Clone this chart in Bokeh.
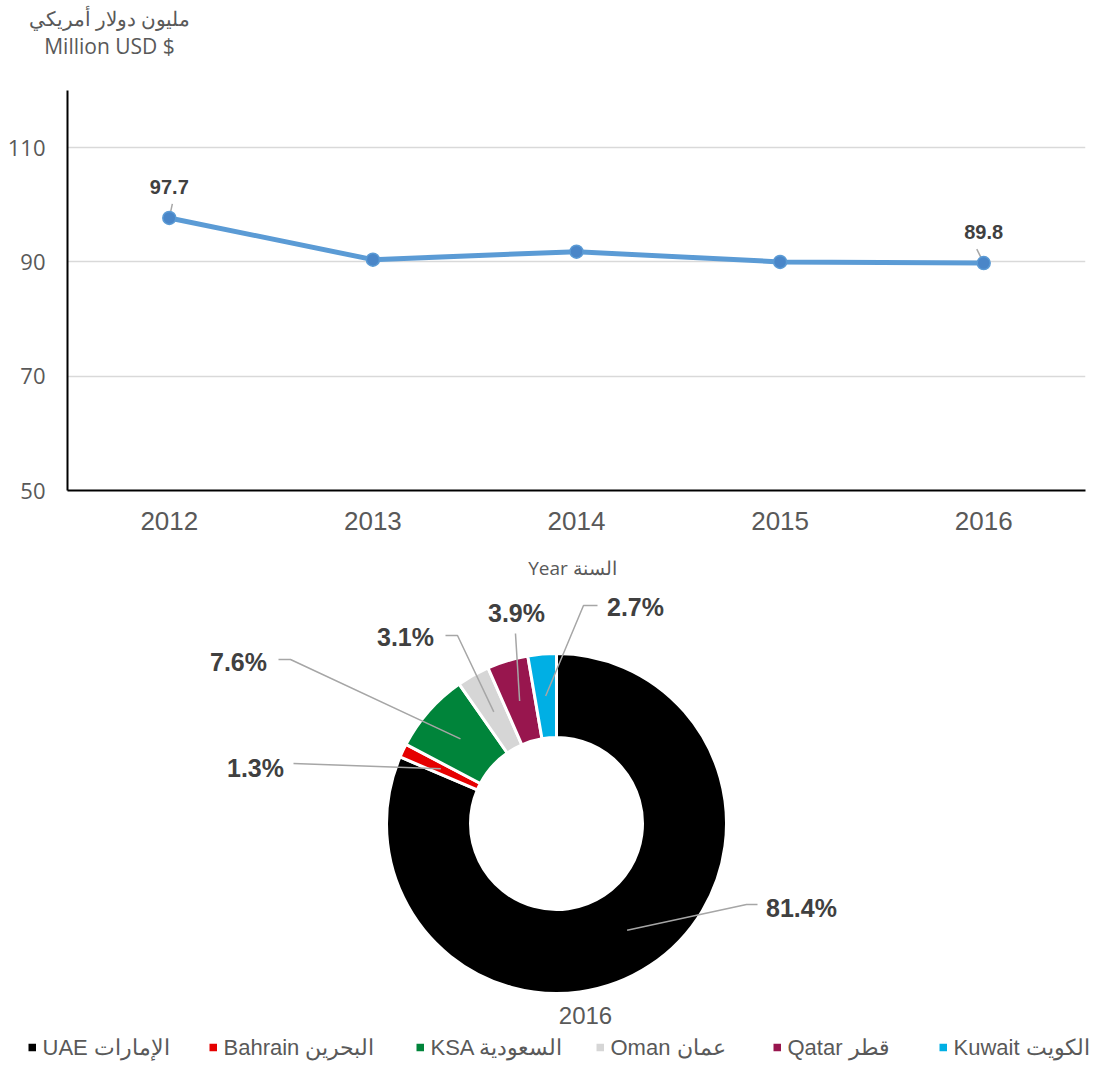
import math
from bokeh.plotting import figure
from bokeh.models import Range1d, FixedTicker, Label, LabelSet, ColumnDataSource
from bokeh.layouts import column
from bokeh.embed import file_html
from bokeh.resources import INLINE
from bokeh.core.properties import value

# ---------------- data ----------------
years = ["2012", "2013", "2014", "2015", "2016"]
spend = [97.7, 90.4, 91.8, 90.0, 89.8]
y_ticks = [50, 70, 90, 110]
y_title_ar = "مليون دولار أمريكي"
y_title_en = "Million USD $"
x_title = "Year السنة"

countries = ["UAE الإمارات", "Bahrain البحرين", "KSA السعودية",
             "Oman عمان", "Qatar قطر", "Kuwait الكويت"]
shares = [81.4, 1.3, 7.6, 3.1, 3.9, 2.7]
share_labels = ["81.4%", "1.3%", "7.6%", "3.1%", "3.9%", "2.7%"]
colors = ["#000000", "#e50000", "#00843a", "#d6d6d6", "#98164e", "#00afe4"]
pie_title = "2016"

GREY = "#595959"
DARK = "#404040"
ARIAL = "Liberation Sans"
W = 1093


def blank(height):
    f = figure(width=W, height=height, x_range=Range1d(0, W), y_range=Range1d(0, height),
               output_backend="svg", toolbar_location=None, min_border=0,
               x_axis_location=None, y_axis_location=None)
    f.frame_align = False
    f.grid.visible = False
    f.outline_line_color = None
    f.background_fill_color = "white"
    f.border_fill_color = "white"
    return f


# ---------------- header strip (axis title) ----------------
H0 = 90
p0 = blank(H0)
for txt, py, fs in ((y_title_ar, 18, "20px"), (y_title_en, 45, "21px")):
    p0.add_layout(Label(x=109, y=H0 - py, text=txt, text_align="center",
                        text_baseline="middle", text_font="Open Sans",
                        text_font_size=fs, text_color=GREY))

# ---------------- line chart ----------------
FRAME_H = 400
H1 = 455
FL, FR = 67, 8
p1 = figure(width=W, height=H1, x_range=Range1d(-0.5, len(years) - 0.5),
            y_range=Range1d(50, 120), output_backend="svg", toolbar_location=None,
            min_border_left=FL, min_border_right=FR, min_border_top=0,
            min_border_bottom=H1 - FRAME_H)
p1.frame_align = False
p1.outline_line_color = None
p1.background_fill_color = "white"
p1.border_fill_color = "white"

xs = list(range(len(years)))
p1.xaxis.ticker = FixedTicker(ticks=xs)
p1.xaxis.major_label_overrides = {i: y for i, y in enumerate(years)}
p1.yaxis.ticker = FixedTicker(ticks=y_ticks)
for ax in (p1.xaxis, p1.yaxis):
    ax.axis_line_color = "black"
    ax.axis_line_width = 2
    ax.major_tick_line_color = None
    ax.minor_tick_line_color = None
    ax.major_label_text_color = GREY
p1.xaxis.major_label_text_font = ARIAL
p1.xaxis.major_label_text_font_size = "26px"
p1.xaxis.major_label_standoff = 15
p1.yaxis.major_label_text_font = "Open Sans"
p1.yaxis.major_label_text_font_size = "22px"
p1.yaxis.major_label_standoff = 16
p1.xgrid.grid_line_color = None
p1.ygrid.ticker = FixedTicker(ticks=y_ticks)
p1.ygrid.grid_line_color = "#d9d9d9"
p1.ygrid.grid_line_width = 1.5

p1.line(xs, spend, line_width=5, color="#5b9bd5")

# small leader lines for the data labels (first and last point)
lab_idx = [0, len(years) - 1]
lead_dx = [0.015, -0.034]
p1.segment(x0=[xs[i] for i in lab_idx], y0=[spend[i] for i in lab_idx],
           x1=[xs[i] + d for i, d in zip(lab_idx, lead_dx)],
           y1=[spend[i] + 2.45 for i in lab_idx],
           line_color="#a6a6a6", line_width=1.5)

p1.scatter(xs, spend, size=13, fill_color="#4a86c8", line_color="#5b9bd5",
           line_width=1.5)

lsrc = ColumnDataSource(dict(x=[xs[i] for i in lab_idx],
                             y=[spend[i] for i in lab_idx],
                             t=[f"{spend[i]:.1f}" for i in lab_idx]))
p1.add_layout(LabelSet(x="x", y="y", text="t", source=lsrc, y_offset=31,
                       text_align="center", text_baseline="middle",
                       text_font=value(ARIAL), text_font_style="bold",
                       text_font_size="20px", text_color=DARK))

# ---------------- donut chart ----------------
TOP2 = H0 + H1
H2 = 1064 - TOP2
p2 = blank(H2)


def fy(py):  # page y -> data y of the donut strip
    return TOP2 + H2 - py


p2.add_layout(Label(x=572, y=fy(567), text=x_title, text_align="center",
                    text_baseline="middle", text_font="Open Sans",
                    text_font_size="19px", text_color=GREY))

cx, cy = 556, fy(823)
r_in, r_out = 86, 170
total = sum(shares)
cum = [0.0]
for s in shares:
    cum.append(cum[-1] + s / total)
starts = [math.pi / 2 - 2 * math.pi * c for c in cum[:-1]]
ends = [math.pi / 2 - 2 * math.pi * c for c in cum[1:]]
mids = [(a + b) / 2 for a, b in zip(starts, ends)]

wsrc = ColumnDataSource(dict(start=starts, end=ends, color=colors))
p2.annular_wedge(x=cx, y=cy, inner_radius=r_in, outer_radius=r_out,
                 start_angle="start", end_angle="end", direction="clock",
                 fill_color="color", line_color="white", line_width=3,
                 source=wsrc)

# leader lines: anchor at the middle of each ring segment, then label-side points (page px)
leader_pts = [
    [(746, 904), (757, 904)],
    [(293, 763)],
    [(290, 659), (278, 659)],
    [(457, 635), (445, 635)],
    [(515, 633)],
    [(583, 605), (597, 605)],
]
label_pos = [(801, 907), (255, 767), (238, 661), (405, 636), (516, 612), (635, 606)]
r_mid = (r_in + r_out) / 2
lx, ly = [], []
for m, pts in zip(mids, leader_pts):
    lx.append([cx + r_mid * math.cos(m)] + [p[0] for p in pts])
    ly.append([cy + r_mid * math.sin(m)] + [fy(p[1]) for p in pts])
p2.multi_line(xs=lx, ys=ly, line_color="#a6a6a6", line_width=1.5)

tsrc = ColumnDataSource(dict(x=[p[0] for p in label_pos],
                             y=[fy(p[1]) for p in label_pos], t=share_labels))
p2.add_layout(LabelSet(x="x", y="y", text="t", source=tsrc, text_align="center",
                       text_baseline="middle", text_font=value(ARIAL),
                       text_font_style="bold", text_font_size="25px",
                       text_color=DARK))

p2.add_layout(Label(x=585, y=fy(1015), text=pie_title, text_align="center",
                    text_baseline="middle", text_font=ARIAL,
                    text_font_size="24px", text_color=GREY))

# legend: square swatches + labels (layout positions in page px)
legend_left = [28, 209, 416, 596, 773, 939]
legend_y = 1047
SW = 7.5
p2.rect(x=[l + SW / 2 for l in legend_left], y=[fy(legend_y)] * len(legend_left),
        width=SW, height=SW, fill_color=colors, line_color=None)
gsrc = ColumnDataSource(dict(x=[l + 14 for l in legend_left],
                             y=[fy(legend_y)] * len(legend_left), t=countries))
p2.add_layout(LabelSet(x="x", y="y", text="t", source=gsrc, text_align="left",
                       text_baseline="middle", text_font=value(ARIAL),
                       text_font_size="22px", text_color=GREY))

layout = column(p0, p1, p2, spacing=0)
open("out.html", "w").write(file_html(layout, INLINE))
